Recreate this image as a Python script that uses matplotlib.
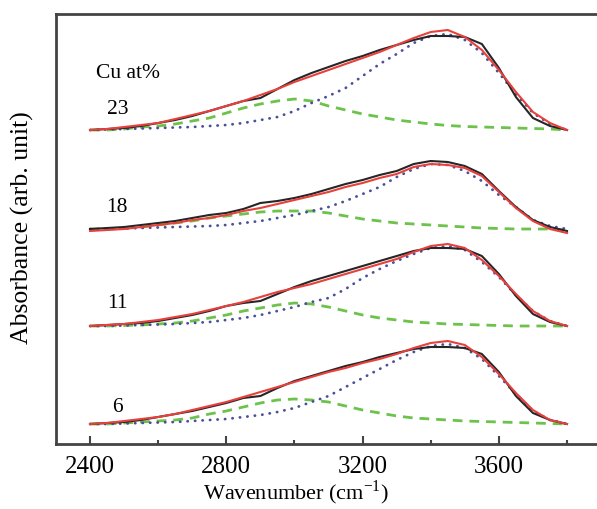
import numpy as np
import matplotlib
matplotlib.use("Agg")
import matplotlib.pyplot as plt

plt.rcParams['font.family'] = ['Liberation Serif', 'DejaVu Serif']
plt.rcParams['mathtext.fontset'] = 'custom'
plt.rcParams['mathtext.rm'] = 'Liberation Serif'

# wavenumber grid (cm^-1)
wn = [2400, 2450, 2500, 2550, 2600, 2650, 2700, 2750, 2800, 2850, 2900, 2950,
      3000, 3050, 3100, 3150, 3200, 3250, 3300, 3350, 3400, 3450, 3500, 3550,
      3600, 3650, 3700, 3750, 3800]

# Cu 23 at%  (heights above own baseline, arb.)
meas_23 = [0, 1, 2, 4, 7, 10, 14, 19, 24, 29, 32, 41, 50, 57, 63, 69, 74, 80,
           85, 90, 94, 94, 93, 86, 62, 33, 12, 4, 0]
fit_23 = [0, 1, 3, 5, 7, 11, 15, 19, 24, 29, 35, 41, 48, 54, 60, 66, 72, 78,
          85, 92, 98, 100, 93, 80, 60, 38, 18, 7, 0]
low_23 = [0, 0, 1, 3, 4, 6, 9, 12, 17, 22, 26, 29, 31, 29, 24, 20, 16, 13,
          10, 8, 6, 4.5, 3.5, 3, 2.5, 2, 1.5, 1, 0]
high_23 = [0, 0.5, 1, 1.5, 2, 2.5, 3, 4, 5, 7, 10, 13, 19, 27, 34, 42, 54, 66,
           76, 87, 94, 96, 90, 77, 57, 36, 17, 6, 0]

# Cu 18 at%
meas_18 = [0, 1, 2, 4, 6, 8, 11, 14, 16, 20, 26, 28, 31, 35, 40, 45, 49, 54,
           58, 65, 68, 67, 63, 55, 38, 22, 9, 2, -2]
fit_18 = [-2, -1, 0, 2, 4, 6, 9, 11, 14, 18, 21, 25, 29, 33, 37, 42, 46, 51,
          55, 62, 65, 64, 61, 53, 37, 21, 8, 0, -4]
low_18 = [0, 0, 1, 2, 4, 6, 8, 11, 13, 15, 17, 18, 18, 18, 16, 13, 10, 8,
          6, 5, 4, 3, 2, 1, 0.5, 0, 0, 0, -1]
high_18 = [0, 0, 0.5, 1, 1.5, 2, 2.5, 3, 4, 6, 8, 11, 14, 18, 22, 28, 35, 42,
           52, 60, 65, 64, 58, 48, 34, 22, 9, 3, 0]

# Cu 11 at%
meas_11 = [0, 1, 2, 3, 5, 8, 11, 15, 20, 23, 25, 32, 39, 45, 50, 55, 60, 65,
           70, 75, 78, 78, 77, 70, 52, 30, 12, 4, 0]
fit_11 = [0, 1, 2, 4, 6, 9, 12, 16, 20, 24, 29, 34, 38, 42, 47, 52, 57, 62,
          67, 74, 80, 82, 78, 66, 50, 32, 15, 5, 0]
low_11 = [0, 0, 0.5, 1, 2, 3, 5, 8, 11, 15, 18, 21, 23, 22, 19, 15, 11, 8,
          6, 4, 3, 2, 1.5, 1, 0.5, 0, 0, 0, 0]
high_11 = [0, 0, 0.5, 1, 1.5, 2, 3, 4, 6, 8, 11, 15, 19, 24, 28, 37, 48, 57,
           65, 72, 78, 80, 76, 64, 49, 31, 15, 5, 0]

# Cu 6 at%
meas_6 = [0, 1, 2, 4, 7, 10, 13, 17, 21, 26, 28, 36, 43, 48, 53, 58, 62, 67,
          71, 75, 77, 77, 76, 70, 52, 28, 11, 4, 0]
fit_6 = [0, 1, 3, 5, 7, 10, 14, 18, 22, 27, 32, 37, 42, 47, 52, 56, 61, 65,
         70, 76, 81, 83, 79, 67, 50, 31, 14, 4, 0]
low_6 = [0, 0, 1, 2, 3, 4, 6, 10, 13, 17, 21, 24, 25, 24, 22, 18, 14, 11,
         8, 6, 5, 4, 3, 2.5, 2, 1.5, 1, 0.5, 0]
high_6 = [0, 0, 0.5, 1, 1.5, 2, 3, 4, 5, 7, 9, 12, 16, 22, 28, 37, 46, 55,
          64, 72, 78, 80, 76, 65, 48, 30, 13, 4, 0]

labels = ["23", "18", "11", "6"]
offsets = [3.14, 2.15, 1.18, 0.20]
label_y = [3.35, 2.37, 1.42, 0.38]
scale = 0.01

fig = plt.figure(figsize=(5.97, 5.10), dpi=100)
ax = fig.add_axes([56 / 597, 65 / 510, 541 / 597, 430 / 510])

x = np.array(wn)
sets = [(meas_23, fit_23, low_23, high_23),
        (meas_18, fit_18, low_18, high_18),
        (meas_11, fit_11, low_11, high_11),
        (meas_6, fit_6, low_6, high_6)]

for (meas, fit, low, high), off, lab, ly in zip(sets, offsets, labels, label_y):
    ax.plot(x, off + scale * np.array(low), color='#6cc24a', lw=2.0,
            linestyle=(0, (3.5, 2.5)))
    ax.plot(x, off + scale * np.array(high), color='#4a4f9a', lw=2.0,
            linestyle=(0, (0.1, 2.6)), dash_capstyle='round')
    ax.plot(x, off + scale * np.array(meas), color='#262626', lw=1.5)
    ax.plot(x, off + scale * np.array(fit), color='#e8403c', lw=1.5)
    ax.text(2480, ly, lab, fontsize=15.5, ha='center', va='center')

ax.text(2416, 3.72, "Cu at%", fontsize=15.5, ha='left', va='center')

ax.set_xlim(2300, 3888)
ax.set_ylim(0, 4.30)
ax.set_xticks([2400, 2800, 3200, 3600])
ax.set_xticks([2600, 3000, 3400, 3800], minor=True)
ax.set_yticks([])
ax.tick_params(axis='x', which='major', direction='in', length=6, width=1.5,
               labelsize=18, pad=8, color='#444444')
ax.tick_params(axis='x', which='minor', direction='in', length=3, width=1.5,
               color='#444444')
for side in ['left', 'bottom', 'top']:
    ax.spines[side].set_linewidth(2.0)
    ax.spines[side].set_color('#444444')
ax.spines['right'].set_visible(False)

ax.set_xlabel(r"Wavenumber (cm$^{\mathregular{-1}}$)", fontsize=16)
ax.xaxis.set_label_coords(0.444, -0.077)
ax.set_ylabel("Absorbance (arb. unit)", fontsize=18.5)
ax.yaxis.set_label_coords(-0.04, 0.505)

fig.savefig("out.png", dpi=100)
